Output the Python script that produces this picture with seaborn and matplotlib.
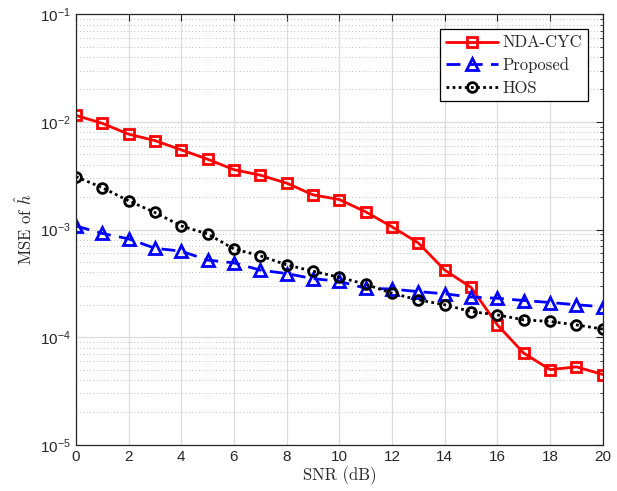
import numpy as np
import pandas as pd
import matplotlib
matplotlib.use("Agg")
import matplotlib.pyplot as plt
import seaborn as sns
from matplotlib.ticker import LogLocator, MultipleLocator, NullFormatter

snr = list(range(0, 21))
nda_cyc = [0.0115, 0.0097, 0.0077, 0.0067, 0.0055, 0.0045, 0.0036, 0.0032, 0.0027, 0.0021,
           0.0019, 0.00146, 0.00106, 0.00075, 0.00042, 0.00029, 0.00013, 7.1e-5, 5.0e-5, 5.3e-5, 4.5e-5]
proposed = [0.00108, 0.00092, 0.00082, 0.00067, 0.00063, 0.00052, 0.00049, 0.00042, 0.00039, 0.00035,
            0.00033, 0.000285, 0.00028, 0.000265, 0.000253, 0.000236, 0.00023, 0.000219, 0.00021, 0.0002, 0.000192]
hos = [0.0031, 0.00245, 0.00185, 0.00144, 0.00108, 0.00091, 0.00066, 0.00057, 0.00047, 0.00041,
       0.00036, 0.00031, 0.000256, 0.000222, 0.0002, 0.000173, 0.000161, 0.000145, 0.00014, 0.00013, 0.000119]
names = ["NDA-CYC", "Proposed", "HOS"]

sns.set_style("white")
plt.rcParams["mathtext.fontset"] = "cm"
plt.rcParams["font.family"] = ["Liberation Sans", "DejaVu Sans"]

fig = plt.figure(figsize=(6.17, 4.91), dpi=100)
ax = fig.add_axes([0.123, 0.094, 0.854, 0.877])

styles = [
    dict(color="#ff0000", linestyle="-", marker="s", ms=7),
    dict(color="#0000ff", linestyle=(0, (5, 3)), marker="^", ms=8.5),
    dict(color="#000000", linestyle=(0, (1, 1.2)), marker="o", ms=7),
]
for name, vals, st in zip(names, [nda_cyc, proposed, hos], styles):
    df = pd.DataFrame({"SNR": snr, "MSE": vals})
    sns.lineplot(data=df, x="SNR", y="MSE", ax=ax, label=name,
                 color=st["color"], linestyle=st["linestyle"], marker=st["marker"],
                 markersize=st["ms"], markerfacecolor="none", markeredgecolor=st["color"],
                 markeredgewidth=2.0, linewidth=2.0)

ax.set_yscale("log")
ax.set_xlim(0, 20)
ax.set_ylim(1e-5, 1e-1)
ax.xaxis.set_major_locator(MultipleLocator(2))
ax.yaxis.set_major_locator(LogLocator(base=10, numticks=10))
ax.yaxis.set_minor_locator(LogLocator(base=10, subs=np.arange(2, 10), numticks=20))
ax.yaxis.set_minor_formatter(NullFormatter())

ax.grid(True, which="major", color="#dcdcdc", linewidth=0.9, linestyle="-")
ax.grid(True, which="minor", axis="y", color="#bdbdbd", linewidth=0.7, linestyle=(0, (1, 2.5)))
ax.set_axisbelow(True)

ax.tick_params(which="both", direction="in", top=True, right=True, colors="#262626",
               labelsize=11)
ax.tick_params(which="major", length=5, width=0.8)
ax.tick_params(which="minor", length=2.5, width=0.6)
for s in ax.spines.values():
    s.set_color("#262626")
    s.set_linewidth(0.9)

ax.set_xlabel("SNR (dB)", fontsize=12, color="#262626", labelpad=2, family="cmr10")
ax.set_ylabel(r"MSE of $\hat{h}$", fontsize=12, color="#262626", labelpad=4, family="cmr10")

leg = ax.legend(loc="upper right", bbox_to_anchor=(0.972, 0.965),
                prop={"family": "cmr10", "size": 12},
                frameon=True, fancybox=False, edgecolor="black", framealpha=1,
                handlelength=3.1, borderpad=0.35, labelspacing=0.42, handletextpad=0.3,
                borderaxespad=0)
leg.get_frame().set_linewidth(0.9)

fig.savefig("out.png", dpi=100)
